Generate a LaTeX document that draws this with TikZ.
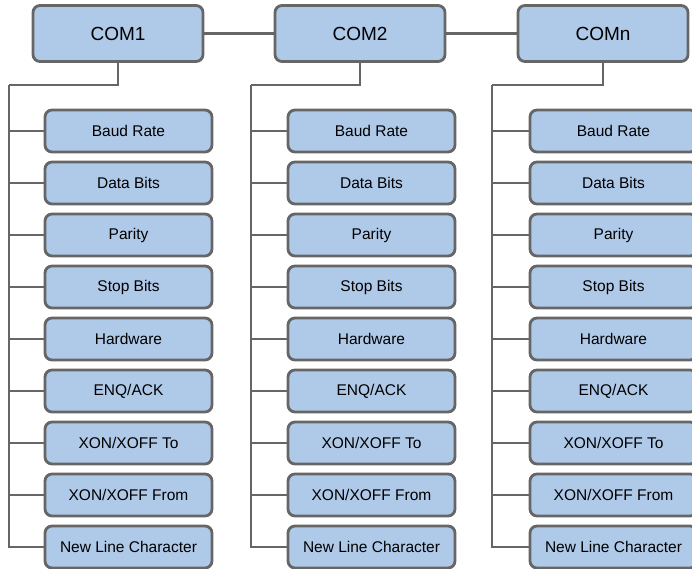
\documentclass[tikz,border=0pt]{standalone}
\usepackage{fontspec}
\setmainfont{Liberation Sans}
\definecolor{boxfill}{RGB}{175,201,232}
\definecolor{boxline}{RGB}{102,102,102}
\begin{document}
\begin{tikzpicture}[x=1pt,y=-1pt,
  comnode/.style={draw=boxline,fill=boxfill,line width=2.8pt,rounded corners=7pt,minimum width=170pt,minimum height=56pt,font=\fontsize{19}{22}\selectfont,inner sep=0pt},
  itemnode/.style={draw=boxline,fill=boxfill,line width=2.8pt,rounded corners=7pt,minimum width=167pt,minimum height=42pt,font=\fontsize{15.5}{18}\selectfont,inner sep=0pt},
  wire/.style={draw=boxline,line width=2.8pt}]
\useasboundingbox (0,0) rectangle (692,569);
\node[comnode] (com1) at (118,33.5) {COM1};
\node[comnode] (com2) at (360,33.5) {COM2};
\node[comnode] (comn) at (603,33.5) {COMn};
\draw[wire] (com1) -- (com2);
\draw[wire] (com2) -- (comn);
\foreach \c/\hx/\tx/\cx in {1/118/9/128.5, 2/360/251/371.5, 3/603/492/613.5} {
  \coordinate (t\c) at (\tx,85);
  \foreach \lab [count=\k] in {Baud Rate,Data Bits,Parity,Stop Bits,Hardware,ENQ/ACK,XON/XOFF To,XON/XOFF From,New Line Character} {
    \node[itemnode] (i\c-\k) at (\cx,{131+(\k-1)*52}) {\lab};
    \draw[wire] (t\c) |- (i\c-\k.west);
  }
}
\draw[wire] (com1.south) |- (t1);
\draw[wire] (com2.south) |- (t2);
\draw[wire] (comn.south) |- (t3);
\end{tikzpicture}
\end{document}
